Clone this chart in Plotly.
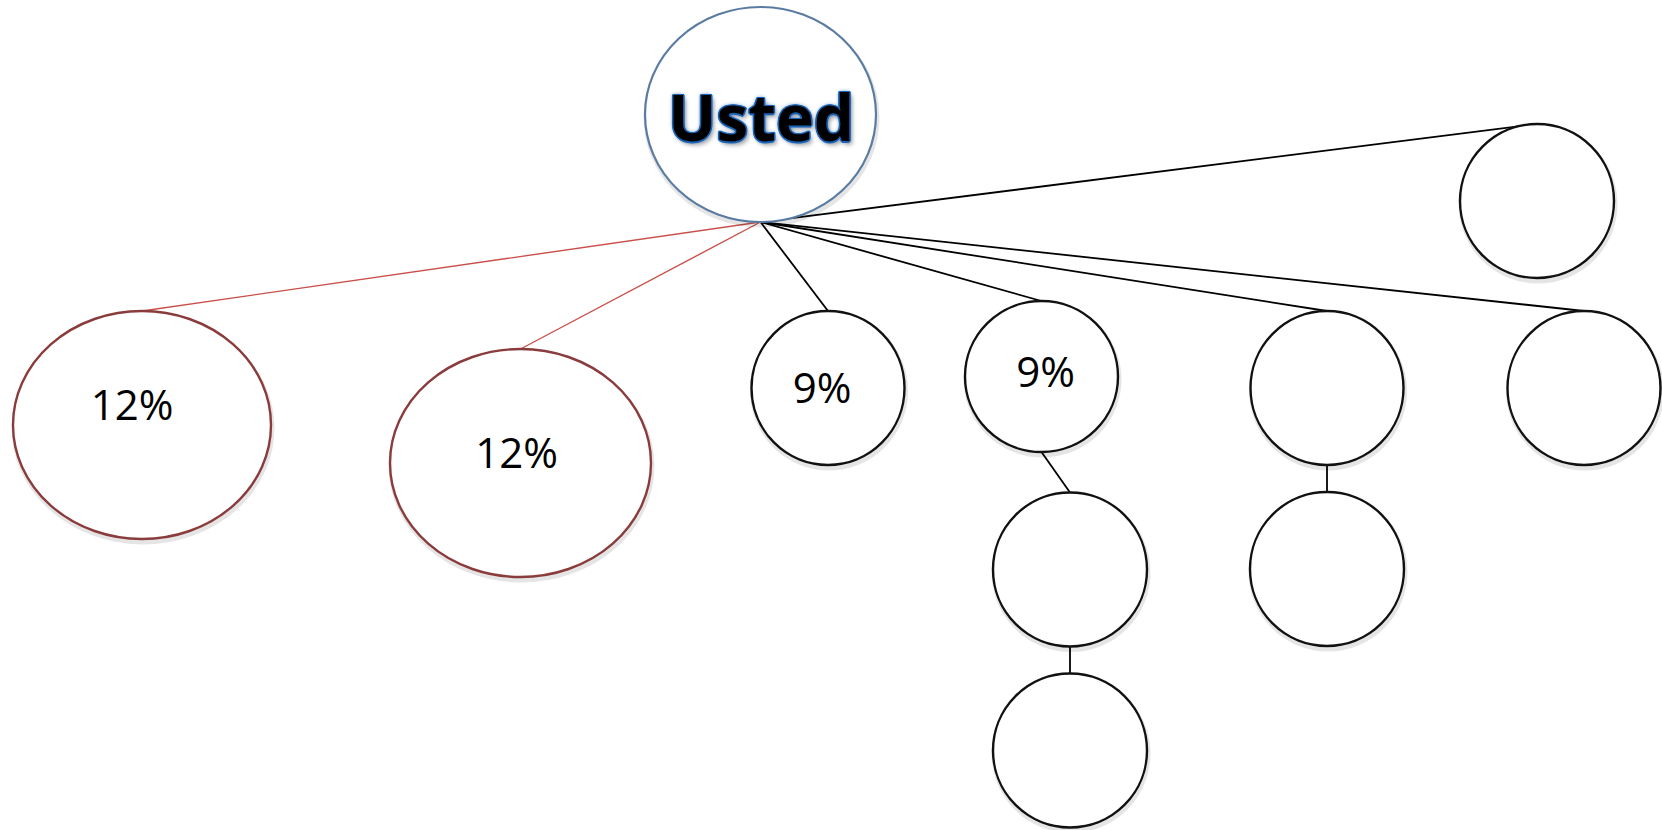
import plotly.graph_objects as go

# ---- diagram data (pixel coordinates of the original drawing) ----
node_labels = ["Usted", "12%", "12%", "9%", "9%", "", "", "", "", "", ""]
node_cx = [760.5, 142, 520.5, 828, 1041.5, 1327, 1584, 1537, 1070, 1070, 1327]
node_cy = [114.5, 425, 463, 388, 376.5, 388, 388, 201, 569.5, 750.5, 569]
node_rx = [115.5, 129, 130.5, 76.5, 76.5, 76.5, 76.5, 77, 77, 77, 77]
node_ry = [107.5, 114, 114, 77, 75.5, 77, 77, 77, 77, 77, 77]
node_kind = ["root", "red", "red", "black", "black", "black", "black", "black", "black", "black", "black"]
label_dx = [0, -10, -4, -6, 4, 0, 0, 0, 0, 0, 0]
label_dy = [0, -16, -6, 4, 0, 0, 0, 0, 0, 0, 0]

hub_x, hub_y = 760.5, 222
edges_from_hub = [1, 2, 3, 4, 5, 6, 7]
child_edges = [(4, 8), (8, 9), (5, 10)]

W, H = 1662, 830

outline = {"root": "#5a7ca3", "red": "#8a3b3b", "black": "#111111"}
edge_col = {"red": "#c9504a", "black": "#000000"}

fig = go.Figure()
shapes = []

# edges from hub
for i in edges_from_hub:
    kind = node_kind[i]
    shapes.append(dict(type="line", xref="x", yref="y", layer="below",
                       x0=hub_x, y0=hub_y,
                       x1=node_cx[i], y1=node_cy[i] - node_ry[i],
                       line=dict(color=edge_col[kind], width=1.4 if kind == "red" else 1.8)))
# child edges
for a, b in child_edges:
    shapes.append(dict(type="line", xref="x", yref="y", layer="below",
                       x0=node_cx[a], y0=node_cy[a] + node_ry[a],
                       x1=node_cx[b], y1=node_cy[b] - node_ry[b],
                       line=dict(color="#000000", width=1.8)))

# soft shadows
for i in range(len(node_cx)):
    shapes.append(dict(type="circle", xref="x", yref="y", layer="below",
                       x0=node_cx[i] - node_rx[i] + 1, x1=node_cx[i] + node_rx[i] + 1,
                       y0=node_cy[i] - node_ry[i] + 3, y1=node_cy[i] + node_ry[i] + 3,
                       line=dict(color="rgba(0,0,0,0.10)", width=5),
                       fillcolor="rgba(0,0,0,0)"))
# circles
for i in range(len(node_cx)):
    kind = node_kind[i]
    shapes.append(dict(type="circle", xref="x", yref="y", layer="below",
                       x0=node_cx[i] - node_rx[i], x1=node_cx[i] + node_rx[i],
                       y0=node_cy[i] - node_ry[i], y1=node_cy[i] + node_ry[i],
                       line=dict(color=outline[kind], width=2.2 if kind == "root" else 2.4),
                       fillcolor="white"))

# percentage labels
lx = [node_cx[i] + label_dx[i] for i in range(1, len(node_cx)) if node_labels[i]]
ly = [node_cy[i] + label_dy[i] for i in range(1, len(node_cx)) if node_labels[i]]
lt = [node_labels[i] for i in range(1, len(node_cx)) if node_labels[i]]
fig.add_trace(go.Scatter(x=lx, y=ly, text=lt, mode="text",
                         textfont=dict(family="Open Sans", size=42, color="#000000"),
                         hoverinfo="skip", showlegend=False))

glow = "#1b63b5"
fig.add_annotation(x=node_cx[0], y=node_cy[0] + 2, xref="x", yref="y",
                   text="<b>" + node_labels[0] + "</b>", showarrow=False,
                   font=dict(family="Open Sans", size=64, color="#000000",
                             shadow=(f"1.5px 0 0 {glow}, -1.5px 0 0 {glow}, 0 1.5px 0 {glow}, 0 -1.5px 0 {glow}, "
                                     f"1px 1px 0 {glow}, -1px -1px 0 {glow}, 1px -1px 0 {glow}, -1px 1px 0 {glow}, "
                                     f"0 0 4px {glow}, 3px 4px 4px rgba(0,0,0,0.3)")))

fig.update_layout(shapes=shapes, width=W, height=H,
                  margin=dict(l=0, r=0, t=0, b=0),
                  paper_bgcolor="white", plot_bgcolor="white",
                  xaxis=dict(range=[0, W], visible=False, fixedrange=True),
                  yaxis=dict(range=[H, 0], visible=False, fixedrange=True),
                  showlegend=False)

fig.write_html("out.html", config={"displayModeBar": False},
               post_script="document.body.style.margin='0';document.body.style.padding='0';document.body.style.overflow='hidden';")
